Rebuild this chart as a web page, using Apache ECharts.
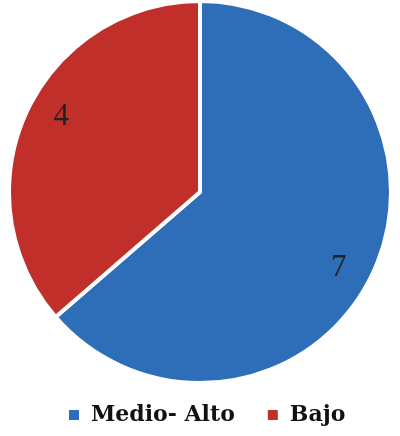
<!DOCTYPE html>
<html>
<head>
<meta charset="utf-8">
<script src="https://cdn.jsdelivr.net/npm/echarts@6/dist/echarts.min.js"></script>
<style>
  html, body { margin: 0; padding: 0; background: #fff; }
  #chart { width: 400px; height: 436px; }
</style>
</head>
<body>
<div id="chart"></div>
<script>
// datos del grafico
const categories = ['Medio- Alto', 'Bajo']
const values = [7, 4]
const colors = ['#2e6eb8', '#c12f2a']

let data = categories.map((name, i) => ({ name: name, value: values[i] }))

let chart = echarts.init(document.getElementById('chart'))
chart.setOption({
    animation: false,
    color: colors,
    legend: {
        data: categories,
        left: 62,
        top: 399,
        icon: 'rect',
        itemWidth: 12,
        itemHeight: 12,
        itemGap: 31,
        textStyle: {
            fontFamily: 'DejaVu Serif',
            fontWeight: 'bold',
            fontSize: 22,
            color: '#111',
            padding: [0, 0, 0, 6]
        }
    },
    series: [
        {
            type: 'pie',
            center: [200, 192],
            radius: [0, 191],
            startAngle: 90,
            data: data,
            label: { show: false },
            labelLine: { show: false },
            itemStyle: { borderColor: '#fff', borderWidth: 4 },
            emphasis: { disabled: true }
        },
        // serie invisible solo para colocar las etiquetas mas cerca del borde
        {
            type: 'pie',
            center: [200, 192],
            radius: [0, 310],
            startAngle: 86,
            silent: true,
            data: data,
            itemStyle: { color: 'transparent', borderWidth: 0 },
            label: {
                show: true,
                position: 'inside',
                formatter: '{c}',
                fontFamily: 'Liberation Serif',
                fontSize: 31,
                color: '#222'
            },
            labelLine: { show: false },
            emphasis: { disabled: true }
        }
    ]
})
</script>
</body>
</html>
